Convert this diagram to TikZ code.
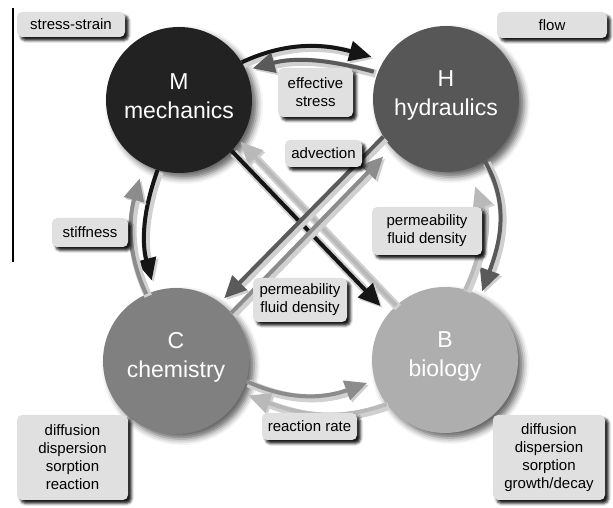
\documentclass[tikz,border=0pt]{standalone}
\usepackage{fontspec}
\setmainfont{Liberation Sans}
\usetikzlibrary{arrows.meta,shadows.blur}
\definecolor{cM}{HTML}{222222}
\definecolor{cH}{HTML}{575757}
\definecolor{cC}{HTML}{808080}
\definecolor{cB}{HTML}{AEAEAE}
\definecolor{aM}{HTML}{151515}
\definecolor{aH}{HTML}{5A5A5A}
\definecolor{aC}{HTML}{8C8C8C}
\definecolor{aB}{HTML}{B9B9B9}
\definecolor{boxgray}{HTML}{E0E0E0}
\definecolor{halo}{HTML}{D0D0D0}
\tikzset{
  circ/.style={circle, minimum size=146pt, inner sep=0pt,
    blur shadow={shadow xshift=5pt, shadow yshift=-5pt, shadow blur radius=6pt, shadow opacity=60}},
  ctext/.style={text=white, font=\fontsize{23}{29}\selectfont, align=center, yshift=4pt},
  lbl/.style={rounded corners=5pt, fill=boxgray, inner sep=0pt,
    font=\fontsize{15}{18}\selectfont, align=center,
    blur shadow={shadow xshift=3.5pt, shadow yshift=-3.5pt, shadow blur radius=2.5pt, shadow opacity=90}},
  lnk/.style={line width=4pt, draw=#1, -{Triangle[length=22pt,width=20pt]},
    preaction={draw=halo, line width=8pt, transform canvas={shift={(2pt,-2pt)}}}},
}
\begin{document}
\begin{tikzpicture}[x=1pt,y=1pt]
\useasboundingbox (0,0) rectangle (613,508);
% left border line
\coordinate (ltop) at (13,500);
\coordinate (lbot) at (13,246);
\draw[line width=1.3pt] (ltop) -- (lbot);
% circles
\node[circ, fill=cM, label={[ctext]center:M\\mechanics}] (M) at (179,408) {};
\node[circ, fill=cH, label={[ctext]center:H\\hydraulics}] (H) at (446,409) {};
\node[circ, fill=cC, label={[ctext]center:C\\chemistry}] (C) at (176,147) {};
\node[circ, fill=cB, label={[ctext]center:B\\biology}] (B) at (445,148) {};
% top pair
\draw[lnk=aM, shorten >=13pt] (M.31) to[out=25,in=165] (H.148);
\draw[lnk=aH, shorten <=4pt, shorten >=7pt] (H.159) to[out=165,in=15] (M.24);
% left pair
\draw[lnk=aM, shorten >=11pt] (M.253) to[out=250,in=105] (C.107);
\draw[lnk=aC, shorten >=15pt] (C.114) to[out=115,in=255] (M.241);
% right pair
\draw[lnk=aH, shorten >=5pt] (H.302) to[out=-60,in=70] (B.61);
\draw[lnk=aB, shorten >=19pt] (B.74) to[out=65,in=290] (H.288);
% bottom pair
\draw[lnk=aC, shorten >=8pt] (C.-16) to[out=-25,in=200] (B.196);
\draw[lnk=aB, shorten >=7pt] (B.217) to[out=200,in=-20] (C.334);
% diagonals
\draw[lnk=aB, shorten >=1pt] (B.132) -- (M.-34);
\draw[lnk=aM, shorten >=11pt] (M.-44) -- (B.141);
\draw[lnk=aC, shorten >=12pt] (C.41) -- (H.222);
\draw[lnk=aH, shorten >=6pt] (H.211) -- (C.53);
% labels
\node[lbl, minimum width=108pt, minimum height=25pt] (ss) at (71,483.5) {stress-strain};
\node[lbl, minimum width=110pt, minimum height=26pt] (fl) at (552,483) {flow};
\node[lbl, minimum width=75pt, minimum height=49pt] (es) at (315.5,415.5) {effective\\stress};
\node[lbl, minimum width=77pt, minimum height=27pt] (ad) at (323.5,354.5) {advection};
\node[lbl, minimum width=110pt, minimum height=48pt] (pr) at (427,277) {permeability\\fluid density};
\node[lbl, minimum width=94pt, minimum height=44pt] (pc) at (300,208) {permeability\\fluid density};
\node[lbl, minimum width=76pt, minimum height=29pt] (st) at (90,275.5) {stiffness};
\node[lbl, minimum width=95pt, minimum height=27pt] (rr) at (309.5,81.5) {reaction rate};
\node[lbl, minimum width=111pt, minimum height=85pt] (cl) at (72.5,50.5) {diffusion\\dispersion\\sorption\\reaction};
\node[lbl, minimum width=112pt, minimum height=85pt] (bl) at (549,50.5) {diffusion\\dispersion\\sorption\\growth/decay};
\end{tikzpicture}
\end{document}
